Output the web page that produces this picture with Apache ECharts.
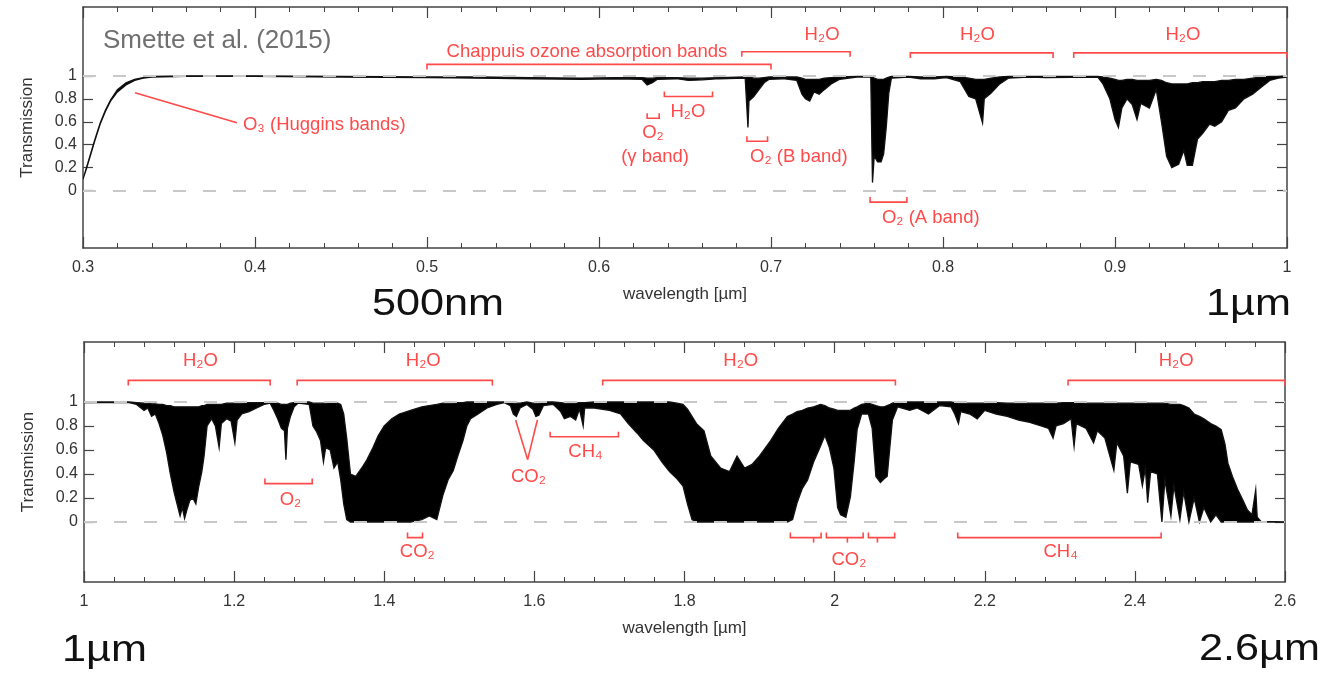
<!DOCTYPE html>
<html>
<head>
<meta charset="UTF-8">
<title>Atmospheric transmission</title>
<script src="https://cdn.jsdelivr.net/npm/echarts@6/dist/echarts.min.js"></script>
<style>
  html, body { margin: 0; background: #fff; }
  #chart { width: 1325px; height: 683px; }
</style>
</head>
<body>
<div id="chart"></div>
<script>
// top panel: wavelength [um], upper and lower edge of the absorption band
const topWave = [0.300, 0.302, 0.304, 0.307, 0.310, 0.313, 0.316, 0.320, 0.325, 0.330, 0.335, 0.340, 0.360, 0.400, 0.450,
  0.500, 0.530, 0.560, 0.590, 0.610, 0.625, 0.628, 0.631, 0.634, 0.645, 0.652, 0.660, 0.670, 0.685, 0.6866, 0.6872,
  0.690, 0.693, 0.696, 0.699, 0.707, 0.715, 0.718, 0.720, 0.7225, 0.725, 0.728, 0.731, 0.735, 0.740, 0.750, 0.758,
  0.759, 0.760, 0.762, 0.764, 0.7655, 0.767, 0.7685, 0.770, 0.780, 0.787, 0.795, 0.802, 0.810, 0.815, 0.819, 0.823,
  0.824, 0.828, 0.833, 0.838, 0.850, 0.860, 0.890, 0.893, 0.897, 0.900, 0.902, 0.904, 0.907, 0.910, 0.9128, 0.915,
  0.920, 0.924, 0.927, 0.930, 0.933, 0.937, 0.940, 0.942, 0.945, 0.948, 0.951, 0.955, 0.958, 0.962, 0.966, 0.970,
  0.975, 0.980, 0.985, 0.990, 0.995, 1.000];
const topUpper = [0.10, 0.20, 0.30, 0.45, 0.59, 0.70, 0.79, 0.88, 0.94, 0.97, 0.985, 0.995, 1.0, 1.0, 0.995,
  0.99, 0.99, 0.985, 0.98, 0.985, 0.985, 0.98, 0.98, 0.985, 0.985, 0.98, 0.98, 0.985, 0.99, 0.99, 0.99,
  0.98, 0.98, 0.985, 0.99, 0.99, 0.99, 0.98, 0.97, 0.97, 0.97, 0.97, 0.98, 0.985, 0.99, 0.995, 0.995,
  0.99, 0.98, 0.97, 0.97, 0.97, 0.98, 0.99, 0.995, 0.995, 0.99, 0.99, 0.995, 0.99, 0.98, 0.97, 0.97,
  0.97, 0.98, 0.99, 0.995, 0.995, 0.995, 0.995, 0.99, 0.98, 0.97, 0.96, 0.96, 0.97, 0.97, 0.96, 0.96,
  0.96, 0.97, 0.96, 0.94, 0.93, 0.93, 0.93, 0.93, 0.94, 0.94, 0.95, 0.95, 0.95, 0.96, 0.96, 0.97,
  0.97, 0.98, 0.99, 0.995, 0.995, 1.0];
const topLower = [0.10, 0.19, 0.29, 0.44, 0.58, 0.69, 0.78, 0.86, 0.92, 0.96, 0.98, 0.99, 0.995, 0.995, 0.99,
  0.985, 0.98, 0.975, 0.97, 0.975, 0.97, 0.92, 0.94, 0.97, 0.975, 0.96, 0.965, 0.975, 0.98, 0.55, 0.78,
  0.82, 0.88, 0.94, 0.97, 0.975, 0.96, 0.84, 0.80, 0.78, 0.86, 0.84, 0.88, 0.93, 0.97, 0.99, 0.99,
  0.07, 0.30, 0.25, 0.25, 0.32, 0.55, 0.85, 0.98, 0.99, 0.975, 0.975, 0.985, 0.95, 0.82, 0.80, 0.59,
  0.80, 0.85, 0.93, 0.98, 0.99, 0.985, 0.99, 0.93, 0.80, 0.62, 0.55, 0.72, 0.80, 0.75, 0.62, 0.76,
  0.72, 0.88, 0.60, 0.30, 0.20, 0.23, 0.35, 0.22, 0.22, 0.45, 0.50, 0.58, 0.56, 0.60, 0.70, 0.72,
  0.80, 0.84, 0.90, 0.96, 0.98, 0.99];

// bottom panel
const botWave = [1.000, 1.060, 1.070, 1.080, 1.085, 1.090, 1.095, 1.100, 1.105, 1.110, 1.115, 1.120, 1.124, 1.128,
  1.131, 1.134, 1.137, 1.141, 1.145, 1.149, 1.153, 1.157, 1.160, 1.164, 1.170, 1.175, 1.180, 1.183, 1.190, 1.196,
  1.201, 1.204, 1.210, 1.220, 1.230, 1.240, 1.248, 1.253, 1.258, 1.263, 1.267, 1.269, 1.271, 1.275, 1.280, 1.285,
  1.300, 1.305, 1.310, 1.315, 1.319, 1.322, 1.328, 1.333, 1.338, 1.342, 1.346, 1.350, 1.355, 1.362, 1.370, 1.377,
  1.385, 1.392, 1.400, 1.410, 1.420, 1.435, 1.450, 1.460, 1.470, 1.478, 1.485, 1.492, 1.498, 1.505, 1.510, 1.515,
  1.525, 1.537, 1.550, 1.560, 1.568, 1.572, 1.576, 1.581, 1.590, 1.598, 1.602, 1.606, 1.612, 1.625, 1.635, 1.640,
  1.648, 1.655, 1.660, 1.665, 1.667, 1.680, 1.700, 1.715, 1.725, 1.737, 1.745, 1.759, 1.770, 1.780, 1.790, 1.798,
  1.804, 1.810, 1.816, 1.826, 1.835, 1.848, 1.860, 1.870, 1.880, 1.890, 1.900, 1.915, 1.925, 1.937, 1.944, 1.950,
  1.957, 1.964, 1.972, 1.981, 1.987, 1.993, 1.999, 2.004, 2.008, 2.015, 2.021, 2.026, 2.030, 2.036, 2.045, 2.050,
  2.055, 2.061, 2.066, 2.070, 2.074, 2.077, 2.084, 2.100, 2.110, 2.125, 2.140, 2.155, 2.160, 2.165, 2.168, 2.180,
  2.190, 2.200, 2.215, 2.230, 2.245, 2.260, 2.275, 2.285, 2.291, 2.295, 2.305, 2.315, 2.319, 2.322, 2.335, 2.345,
  2.350, 2.360, 2.372, 2.376, 2.385, 2.390, 2.394, 2.405, 2.410, 2.414, 2.417, 2.421, 2.430, 2.436, 2.440, 2.448,
  2.452, 2.460, 2.465, 2.472, 2.479, 2.486, 2.492, 2.501, 2.508, 2.515, 2.520, 2.524, 2.530, 2.537, 2.544, 2.550,
  2.556, 2.561, 2.563, 2.568, 2.600];
const botUpper = [1.0, 1.0, 0.995, 0.99, 0.99, 0.985, 0.985, 0.98, 0.98, 0.97, 0.97, 0.96, 0.96, 0.96,
  0.96, 0.96, 0.96, 0.96, 0.96, 0.96, 0.96, 0.97, 0.97, 0.98, 0.98, 0.98, 0.98, 0.98, 0.99, 0.99,
  0.99, 0.99, 0.99, 0.995, 0.995, 0.995, 1.0, 0.995, 0.99, 0.98, 0.98, 0.98, 0.98, 0.99, 0.995, 1.0,
  1.0, 0.99, 0.99, 0.99, 0.99, 0.99, 0.995, 0.995, 0.99, 0.98, 0.90, 0.70, 0.40, 0.38, 0.45, 0.52,
  0.62, 0.72, 0.80, 0.86, 0.90, 0.93, 0.96, 0.97, 0.98, 0.99, 0.99, 0.99, 0.995, 0.995, 1.0, 1.0,
  1.0, 1.0, 1.0, 1.0, 1.0, 0.99, 0.99, 0.99, 1.0, 0.99, 0.99, 0.99, 1.0, 1.0, 0.995, 0.99,
  0.99, 0.99, 0.995, 0.995, 0.995, 1.0, 1.0, 1.0, 1.0, 1.0, 1.0, 1.0, 1.0, 1.0, 0.99, 0.98,
  0.94, 0.88, 0.82, 0.76, 0.55, 0.45, 0.42, 0.55, 0.45, 0.48, 0.55, 0.68, 0.78, 0.88, 0.90, 0.92,
  0.93, 0.95, 0.96, 0.98, 0.97, 0.95, 0.94, 0.93, 0.93, 0.93, 0.93, 0.95, 0.96, 0.98, 0.99, 0.98,
  0.97, 0.96, 0.96, 0.97, 0.98, 0.99, 1.0, 1.0, 1.0, 1.0, 1.0, 1.0, 0.995, 0.99, 0.99, 0.99,
  0.99, 0.99, 0.995, 0.99, 0.99, 0.99, 0.99, 0.99, 0.99, 0.99, 0.995, 0.995, 0.995, 0.995, 0.99, 0.99,
  0.99, 0.99, 0.99, 0.99, 0.99, 0.99, 0.99, 0.99, 0.99, 0.99, 0.99, 0.99, 0.99, 0.99, 0.99, 0.98,
  0.98, 0.98, 0.97, 0.95, 0.90, 0.88, 0.86, 0.82, 0.80, 0.77, 0.65, 0.49, 0.38, 0.27, 0.18, 0.10,
  0.06, 0.27, 0.04, 0.005, 0.0];
const botLower = [0.995, 0.995, 0.98, 0.93, 0.95, 0.88, 0.90, 0.82, 0.72, 0.58, 0.40, 0.25, 0.15, 0.05,
  0.12, 0.03, 0.10, 0.18, 0.20, 0.15, 0.30, 0.42, 0.55, 0.80, 0.86, 0.80, 0.62, 0.82, 0.86, 0.84,
  0.66, 0.85, 0.90, 0.92, 0.95, 0.98, 0.99, 0.93, 0.86, 0.78, 0.76, 0.52, 0.78, 0.88, 0.96, 0.99,
  0.98, 0.80, 0.75, 0.68, 0.50, 0.62, 0.60, 0.45, 0.50, 0.35, 0.15, 0.02, 0.0, 0.0, 0.0, 0.0,
  0.0, 0.0, 0.0, 0.0, 0.0, 0.0, 0.02, 0.05, 0.02, 0.22, 0.35, 0.43, 0.55, 0.68, 0.80, 0.86,
  0.90, 0.95, 0.98, 0.995, 0.97, 0.90, 0.88, 0.95, 0.98, 0.94, 0.88, 0.89, 0.97, 0.98, 0.92, 0.86,
  0.88, 0.85, 0.94, 0.80, 0.95, 0.95, 0.93, 0.90, 0.82, 0.74, 0.68, 0.60, 0.50, 0.42, 0.36, 0.30,
  0.15, 0.02, 0.0, 0.0, 0.0, 0.0, 0.0, 0.0, 0.0, 0.0, 0.0, 0.0, 0.0, 0.0, 0.02, 0.16,
  0.28, 0.35, 0.50, 0.63, 0.72, 0.62, 0.45, 0.12, 0.06, 0.04, 0.21, 0.50, 0.77, 0.90, 0.90, 0.78,
  0.38, 0.33, 0.36, 0.38, 0.65, 0.85, 0.96, 0.93, 0.95, 0.90, 0.97, 0.96, 0.90, 0.82, 0.92, 0.90,
  0.86, 0.93, 0.90, 0.88, 0.85, 0.83, 0.80, 0.78, 0.70, 0.80, 0.82, 0.86, 0.63, 0.82, 0.78, 0.66,
  0.76, 0.70, 0.43, 0.66, 0.55, 0.24, 0.50, 0.48, 0.30, 0.45, 0.16, 0.42, 0.40, 0.0, 0.35, 0.05,
  0.30, 0.02, 0.25, 0.0, 0.20, 0.0, 0.12, 0.0, 0.06, 0.0, 0.0, 0.0, 0.0, 0.0, 0.0, 0.0,
  0.0, 0.0, 0.0, 0.0, 0.0];

const yTickValues = [0, 0.2, 0.4, 0.6, 0.8, 1];

// annotation brackets: [from, to, transmission, 1 = ends down / -1 = ends up, tip]
const topBrackets = [
  [0.500, 0.700, 1.10, 1, 0], [0.683, 0.746, 1.21, 1, 0], [0.781, 0.864, 1.20, 1, 0], [0.876, 1.000, 1.20, 1, 0],
  [0.638, 0.666, 0.82, -1, 0], [0.628, 0.635, 0.63, -1, 0], [0.686, 0.698, 0.43, -1, 0], [0.7576, 0.779, -0.10, -1, 0]
];
const botBrackets = [
  [1.059, 1.248, 1.18, 1, 0], [1.284, 1.544, 1.18, 1, 0], [1.691, 2.081, 1.18, 1, 0], [2.311, 2.600, 1.18, 1, 0],
  [1.241, 1.304, 0.32, -1, 0], [1.431, 1.451, -0.13, -1, 0], [1.621, 1.712, 0.71, -1, 0],
  [1.941, 1.982, -0.13, -1, 1.972], [1.989, 2.038, -0.13, -1, 2.017], [2.045, 2.080, -0.13, -1, 2.057],
  [2.164, 2.435, -0.13, -1, 0]
];
// annotation labels: [text, wavelength, transmission, align]
const topLabels = [
  ['Chappuis ozone absorption bands', 0.593, 1.21, 'center'],
  ['H₂O', 0.7297, 1.357, 'center'], ['H₂O', 0.820, 1.357, 'center'], ['H₂O', 0.9395, 1.357, 'center'],
  ['O₃ (Huggins bands)', 0.393, 0.574, 'left'],
  ['H₂O', 0.6517, 0.687, 'center'], ['O₂', 0.6314, 0.504, 'center'], ['(γ band)', 0.6326, 0.296, 'center'],
  ['O₂ (B band)', 0.6878, 0.296, 'left'], ['O₂ (A band)', 0.7645, -0.235, 'left']
];
const botLabels = [
  ['H₂O', 1.155, 1.342, 'center'], ['H₂O', 1.452, 1.342, 'center'], ['H₂O', 1.875, 1.342, 'center'],
  ['H₂O', 2.455, 1.342, 'center'], ['O₂', 1.275, 0.183, 'center'], ['CO₂', 1.444, -0.25, 'center'],
  ['CO₂', 1.592, 0.375, 'center'], ['CH₄', 1.668, 0.583, 'center'], ['CO₂', 2.019, -0.317, 'center'],
  ['CH₄', 2.301, -0.25, 'center']
];
// pointer lines: [x0, y0, x1, y1]
const topPointers = [[0.3302, 0.852, 0.3895, 0.591]];
const botPointers = [[1.575, 0.85, 1.591, 0.52], [1.604, 0.85, 1.591, 0.52]];

const RED = '#ff4a4a';
const AXIS = '#444';
const FONT = '"Liberation Sans", Arial, sans-serif';

const chart = echarts.init(document.getElementById('chart'));

function xAxes(grid, min, max, step) {
  const base = {
    gridIndex: grid, type: 'value', min: min, max: max, interval: step,
    axisLine: { onZero: false, lineStyle: { color: AXIS, width: 1.5 } },
    axisTick: { inside: true, length: 11, lineStyle: { color: AXIS, width: 1.2 } },
    minorTick: { show: true, splitNumber: 5, length: 5, lineStyle: { color: AXIS, width: 1 } },
    splitLine: { show: false }
  };
  return [
    Object.assign({}, base, {
      position: 'bottom', name: 'wavelength [µm]', nameLocation: 'middle', nameGap: 38,
      nameTextStyle: { color: '#333', fontSize: 17, fontFamily: FONT },
      axisLabel: { margin: 12, color: '#333', fontSize: 16, fontFamily: FONT,
        formatter: v => String(Math.round(v * 10) / 10) }
    }),
    Object.assign({}, base, { position: 'top', axisLabel: { show: false } })
  ];
}

function yAxes(grid, min, max) {
  const base = {
    gridIndex: grid, type: 'value', min: min, max: max, splitLine: { show: false },
    axisLine: { show: true, onZero: false, lineStyle: { color: AXIS, width: 1.5 } },
    axisTick: { show: true, inside: true, length: 10, customValues: yTickValues, lineStyle: { color: AXIS, width: 1.2 } }
  };
  return [
    Object.assign({}, base, {
      position: 'left', name: 'Transmission', nameLocation: 'middle', nameGap: 47, nameRotate: 90,
      nameTextStyle: { color: '#333', fontSize: 17, fontFamily: FONT },
      axisLabel: { customValues: yTickValues, margin: 6, color: '#333', fontSize: 16, fontFamily: FONT,
        formatter: v => String(Math.round(v * 10) / 10) }
    }),
    Object.assign({}, base, { position: 'right', axisLabel: { show: false } })
  ];
}

function refLines(xi, yi) {
  return {
    type: 'line', xAxisIndex: xi, yAxisIndex: yi, data: [], z: 1, silent: true,
    markLine: {
      symbol: 'none', silent: true, label: { show: false },
      lineStyle: { type: [13, 17], color: '#c8c8c8', width: 2 },
      data: [{ yAxis: 0 }, { yAxis: 1 }]
    }
  };
}

function spectrum(xi, yi, wave, upper, lower) {
  return {
    type: 'custom', xAxisIndex: xi, yAxisIndex: yi, z: 3, clip: true, silent: true,
    data: wave.map((w, i) => [w, upper[i], lower[i]]),
    renderItem: (params, api) => {
      if (params.dataIndex !== 0) return null;
      const pts = [];
      wave.forEach((w, i) => pts.push(api.coord([w, upper[i]])));
      for (let i = wave.length - 1; i >= 0; i--) pts.push(api.coord([wave[i], lower[i]]));
      return { type: 'polygon', shape: { points: pts }, style: { fill: '#000', stroke: '#111', lineWidth: 1.3 } };
    }
  };
}

function brackets(xi, yi, rows) {
  return {
    type: 'custom', xAxisIndex: xi, yAxisIndex: yi, z: 5, silent: true,
    data: rows.map(r => [r[0], r[2]]),
    renderItem: (params, api) => {
      const r = rows[params.dataIndex];
      const a = api.coord([r[0], r[2]]), b = api.coord([r[1], r[2]]);
      const h = r[3] * 5;
      const st = { stroke: RED, lineWidth: 1.6, fill: null };
      const children = [{ type: 'polyline', shape: { points: [[a[0], a[1] + h], a, b, [b[0], b[1] + h]] }, style: st }];
      if (r[4]) {
        const t = api.coord([r[4], r[2]]);
        children.push({ type: 'line', shape: { x1: t[0], y1: t[1], x2: t[0], y2: t[1] - h }, style: st });
      }
      return { type: 'group', children: children };
    }
  };
}

function labels(xi, yi, rows) {
  return {
    type: 'custom', xAxisIndex: xi, yAxisIndex: yi, z: 6, silent: true,
    data: rows.map(r => [r[1], r[2]]),
    renderItem: (params, api) => {
      const r = rows[params.dataIndex];
      const p = api.coord([r[1], r[2]]);
      return {
        type: 'text', x: p[0], y: p[1],
        style: { text: r[0], fill: RED, fontSize: 18.5, fontFamily: FONT, align: r[3], verticalAlign: 'middle' }
      };
    }
  };
}

function pointers(xi, yi, rows) {
  return {
    type: 'custom', xAxisIndex: xi, yAxisIndex: yi, z: 5, silent: true,
    data: rows.map(r => [r[0], r[1]]),
    renderItem: (params, api) => {
      const r = rows[params.dataIndex];
      const a = api.coord([r[0], r[1]]), b = api.coord([r[2], r[3]]);
      return { type: 'line', shape: { x1: a[0], y1: a[1], x2: b[0], y2: b[1] }, style: { stroke: RED, lineWidth: 1.6 } };
    }
  };
}

function bigText(text, x, y, align) {
  return { type: 'text', x: x, y: y, scaleX: 1.2, z: 10,
    style: { text: text, fill: '#111', fontSize: 36, fontFamily: FONT, align: align, verticalAlign: 'middle' } };
}

chart.setOption({
  animation: false,
  backgroundColor: '#fff',
  grid: [
    { left: 83, top: 7, width: 1204, height: 241 },
    { left: 84, top: 342, width: 1201, height: 240 }
  ],
  xAxis: xAxes(0, 0.3, 1, 0.1).concat(xAxes(1, 1, 2.6, 0.2)),
  yAxis: yAxes(0, -0.5, 1.6).concat(yAxes(1, -0.5, 1.5)),
  graphic: [
    { type: 'text', x: 103, y: 41, z: 10,
      style: { text: 'Smette et al. (2015)', fill: '#707070', fontSize: 26, fontFamily: FONT, verticalAlign: 'middle' } },
    bigText('500nm', 372, 305, 'left'),
    bigText('1µm', 1291, 305, 'right'),
    bigText('1µm', 62, 651, 'left'),
    bigText('2.6µm', 1320, 650, 'right')
  ],
  series: [
    refLines(0, 0),
    spectrum(0, 0, topWave, topUpper, topLower),
    brackets(0, 0, topBrackets),
    labels(0, 0, topLabels),
    pointers(0, 0, topPointers),
    refLines(2, 2),
    spectrum(2, 2, botWave, botUpper, botLower),
    brackets(2, 2, botBrackets),
    labels(2, 2, botLabels),
    pointers(2, 2, botPointers)
  ]
});
</script>
</body>
</html>
